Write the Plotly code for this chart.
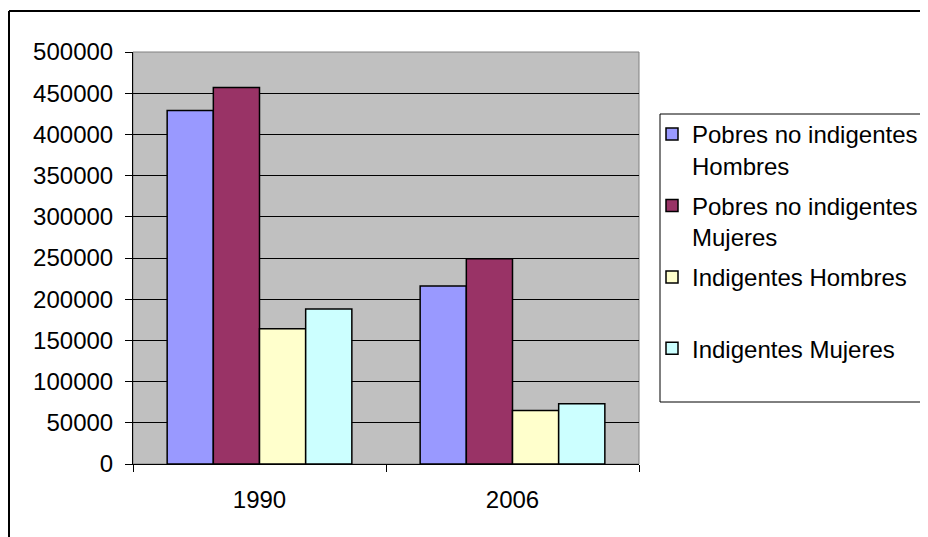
import plotly.graph_objects as go

categories = ["1990", "2006"]
series_names = [
    "Pobres no indigentes<br>Hombres",
    "Pobres no indigentes<br>Mujeres",
    "Indigentes Hombres<br>\u00a0",
    "Indigentes Mujeres<br>\u00a0",
]
pobres_hombres = [429000, 216000]
pobres_mujeres = [457000, 249000]
indig_hombres = [164000, 65000]
indig_mujeres = [188000, 73000]
colors = ["#9999FF", "#993366", "#FFFFCC", "#CCFFFF"]
y_ticks = [0, 50000, 100000, 150000, 200000, 250000, 300000, 350000, 400000, 450000, 500000]

# page offset of the figure inside the browser page (body margin)
OFF = 8
W, H = 928 - OFF, 537 - OFF
# plot-area box in screenshot pixels
L, R, T, B = 133, 639, 52, 464


def px_x(p):
    return (p - L) / (R - L)


def px_y(p):
    return (B - p) / (B - T)


def seg(x0, y0, x1, y1, width):
    return dict(type="line", xref="paper", yref="paper",
                x0=px_x(x0), y0=px_y(y0), x1=px_x(x1), y1=px_y(y1),
                line=dict(color="black", width=width))


fig = go.Figure()
for i, (name, vals, c) in enumerate(zip(series_names,
                                        [pobres_hombres, pobres_mujeres, indig_hombres, indig_mujeres],
                                        colors)):
    fig.add_trace(go.Bar(x=categories, y=vals, name=name, legendgroup=f"g{i}",
                         marker=dict(color=c, line=dict(color="black", width=1.5))))

font = dict(family="Liberation Sans, Arial, sans-serif", size=24, color="black")

fig.update_layout(
    width=W, height=H,
    margin=dict(l=L - OFF, r=W - (R - OFF), t=T - OFF, b=H - (B - OFF), autoexpand=False),
    paper_bgcolor="white",
    plot_bgcolor="#C0C0C0",
    barmode="group", bargap=0.27, bargroupgap=0,
    font=font,
    showlegend=True,
    legend=dict(x=px_x(652), xanchor="left", y=px_y(112), yanchor="top",
                valign="top", bgcolor="rgba(0,0,0,0)", borderwidth=0,
                font=font, traceorder="grouped", tracegroupgap=6),
    xaxis=dict(type="category", showline=True, linecolor="black", linewidth=1,
               ticks="outside", tickson="boundaries", ticklen=7, tickcolor="black",
               showgrid=False, ticklabelstandoff=14),
    yaxis=dict(range=[0, 500000], tickvals=y_ticks, tickformat="d",
               showline=True, linecolor="black", linewidth=1,
               ticks="outside", ticklen=7, tickcolor="black",
               showgrid=True, gridcolor="black", gridwidth=1, zeroline=False,
               ticklabelstandoff=7),
    shapes=[
        # plot area border (gray)
        dict(type="rect", xref="paper", yref="paper", x0=0, x1=1, y0=0, y1=1,
             line=dict(color="#808080", width=1), layer="below"),
        # outer chart border (left and top edges visible)
        seg(9, 11, 9, 560, 2),
        seg(9, 11, 960, 11, 2),
        # legend box (right edge beyond the picture)
        seg(660, 114, 960, 114, 1),
        seg(660, 114, 660, 402, 1),
        seg(660, 402, 960, 402, 1),
    ],
)

fig.write_html(
    "out.html",
    post_script="document.documentElement.style.overflow='hidden';"
                "document.body.style.overflow='hidden';",
)
